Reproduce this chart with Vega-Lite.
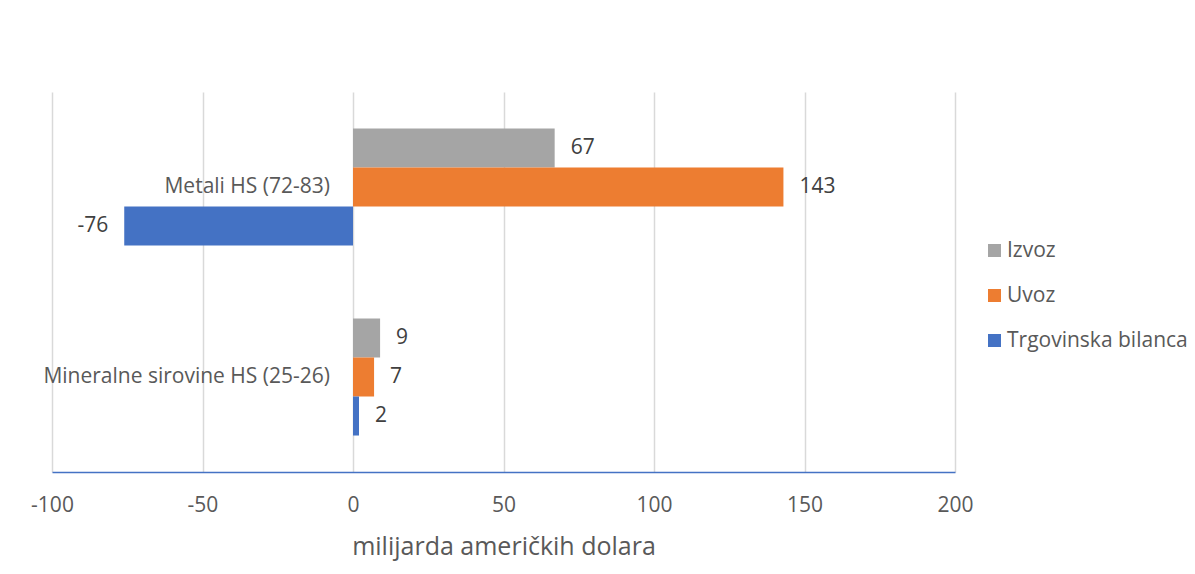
{
  "$schema": "https://vega.github.io/schema/vega-lite/v6.json",
  "width": 903,
  "height": 380,
  "autosize": {"type": "none"},
  "padding": {"left": 52, "top": 92, "right": 240, "bottom": 102},
  "background": "white",
  "config": {
    "view": {"stroke": null},
    "font": "Open Sans",
    "locale": {"number": {"decimal": ".", "thousands": ",", "grouping": [3], "currency": ["$", ""], "minus": "-"}}
  },
  "data": {
    "values": [
      {"kategorija": "Metali HS (72-83)", "serija": "Izvoz", "vrijednost": 67},
      {"kategorija": "Metali HS (72-83)", "serija": "Uvoz", "vrijednost": 143},
      {"kategorija": "Metali HS (72-83)", "serija": "Trgovinska bilanca", "vrijednost": -76},
      {"kategorija": "Mineralne sirovine HS (25-26)", "serija": "Izvoz", "vrijednost": 9},
      {"kategorija": "Mineralne sirovine HS (25-26)", "serija": "Uvoz", "vrijednost": 7},
      {"kategorija": "Mineralne sirovine HS (25-26)", "serija": "Trgovinska bilanca", "vrijednost": 2}
    ]
  },
  "layer": [
    {
      "mark": {"type": "bar"},
      "encoding": {
        "y": {
          "field": "kategorija",
          "type": "nominal",
          "scale": {"domain": ["Metali HS (72-83)", "Mineralne sirovine HS (25-26)"], "paddingInner": 0.384, "paddingOuter": 0.192},
          "axis": null
        },
        "yOffset": {
          "field": "serija",
          "type": "nominal",
          "scale": {"domain": ["Izvoz", "Uvoz", "Trgovinska bilanca"], "paddingInner": 0, "paddingOuter": 0}
        },
        "x": {
          "field": "vrijednost",
          "type": "quantitative",
          "scale": {"domain": [-100, 200], "nice": false, "zero": false},
          "axis": {
            "values": [-100, -50, 0, 50, 100, 150, 200],
            "grid": true,
            "gridColor": "#d9d9d9",
            "gridWidth": 1.5,
            "domainColor": "#4472c4",
            "domainWidth": 1.5,
            "ticks": false,
            "labelFlush": false,
            "labelFontSize": 21,
            "labelColor": "#595959",
            "labelPadding": 22,
            "title": "milijarda američkih dolara",
            "titleFontSize": 25,
            "titleFontWeight": "normal",
            "titleColor": "#595959",
            "titlePadding": 19
          }
        },
        "color": {
          "field": "serija",
          "type": "nominal",
          "scale": {"domain": ["Izvoz", "Uvoz", "Trgovinska bilanca"], "range": ["#a5a5a5", "#ed7d31", "#4472c4"]},
          "legend": {
            "title": null,
            "orient": "none",
            "legendX": 932,
            "legendY": 148,
            "symbolType": "square",
            "symbolSize": 169,
            "symbolStrokeWidth": 0,
            "labelFontSize": 21,
            "labelColor": "#595959",
            "labelLimit": 400,
            "rowPadding": 23,
            "labelOffset": 2
          }
        }
      }
    },
    {
      "transform": [{"filter": "datum.vrijednost >= 0"}],
      "mark": {"type": "text", "align": "left", "baseline": "middle", "dx": 16, "fontSize": 21, "color": "#404040"},
      "encoding": {
        "y": {"field": "kategorija", "type": "nominal"},
        "yOffset": {"field": "serija", "type": "nominal"},
        "x": {"field": "vrijednost", "type": "quantitative"},
        "text": {"field": "vrijednost", "type": "quantitative", "format": "d"}
      }
    },
    {
      "transform": [{"filter": "datum.vrijednost < 0"}],
      "mark": {"type": "text", "align": "right", "baseline": "middle", "dx": -16, "fontSize": 21, "color": "#404040"},
      "encoding": {
        "y": {"field": "kategorija", "type": "nominal"},
        "yOffset": {"field": "serija", "type": "nominal"},
        "x": {"field": "vrijednost", "type": "quantitative"},
        "text": {"field": "vrijednost", "type": "quantitative", "format": "d"}
      }
    },
    {
      "transform": [{"filter": "datum.serija === 'Uvoz'"}],
      "mark": {"type": "text", "align": "right", "baseline": "middle", "dx": -23, "fontSize": 21, "color": "#595959"},
      "encoding": {
        "y": {"field": "kategorija", "type": "nominal"},
        "x": {"datum": 0, "type": "quantitative"},
        "text": {"field": "kategorija", "type": "nominal"}
      }
    }
  ]
}
